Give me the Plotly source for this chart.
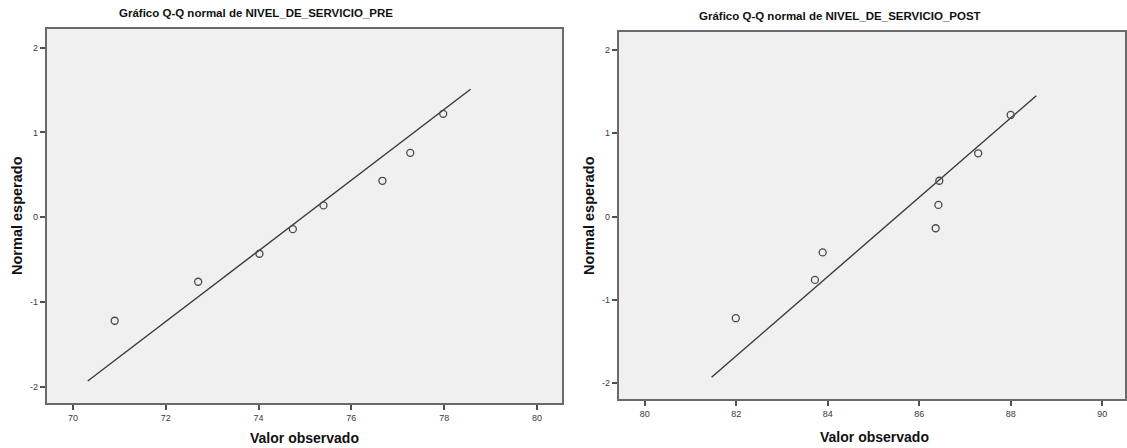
import plotly.graph_objects as go

W, H = 1127, 448

# ---- data ----
pre_observed = [70.9, 72.7, 74.02, 74.74, 75.4, 76.67, 77.27, 77.98]
pre_expected = [-1.22, -0.76, -0.43, -0.14, 0.14, 0.43, 0.76, 1.22]
pre_line_x = [70.32, 78.57]
pre_line_y = [-1.93, 1.51]

post_observed = [81.99, 83.72, 83.89, 86.36, 86.42, 86.44, 87.29, 88.0]
post_expected = [-1.22, -0.76, -0.43, -0.14, 0.14, 0.43, 0.76, 1.22]
post_line_x = [81.46, 88.56]
post_line_y = [-1.93, 1.45]

x_ticks_pre = [70, 72, 74, 76, 78, 80]
x_ticks_post = [80, 82, 84, 86, 88, 90]
y_ticks = [-2, -1, 0, 1, 2]
y_tick_labels = ["-2", "-1", "0", "1", "2"]

title_pre = "Gráfico Q-Q normal de NIVEL_DE_SERVICIO_PRE"
title_post = "Gráfico Q-Q normal de NIVEL_DE_SERVICIO_POST"
x_title = "Valor observado"
y_title = "Normal esperado"

FONT = "Liberation Sans, Arial, sans-serif"


def px(x):
    return x / W


def py(y):
    return 1 - y / H


fig = go.Figure()

marker = dict(symbol="circle-open", size=7, color="#4a4a4a", line=dict(width=1.3, color="#4a4a4a"))
line_style = dict(color="#3a3a3a", width=1.4)

fig.add_trace(go.Scatter(x=pre_line_x, y=pre_line_y, mode="lines", line=line_style,
                         xaxis="x", yaxis="y", showlegend=False, hoverinfo="skip"))
fig.add_trace(go.Scatter(x=pre_observed, y=pre_expected, mode="markers", marker=marker,
                         xaxis="x", yaxis="y", showlegend=False))
fig.add_trace(go.Scatter(x=post_line_x, y=post_line_y, mode="lines", line=line_style,
                         xaxis="x2", yaxis="y2", showlegend=False, hoverinfo="skip"))
fig.add_trace(go.Scatter(x=post_observed, y=post_expected, mode="markers", marker=marker,
                         xaxis="x2", yaxis="y2", showlegend=False))

axis_common = dict(
    showgrid=False, zeroline=False, showline=True, mirror=True,
    linecolor="#6a6a6a", linewidth=2,
    ticks="outside", ticklen=5, tickwidth=1.5, tickcolor="#505050",
    tickfont=dict(family=FONT, size=9, color="#3a3a3a"),
)

fig.update_layout(
    width=W, height=H,
    margin=dict(l=0, r=0, t=0, b=0),
    paper_bgcolor="white",
    plot_bgcolor="#f0f0f0",
    xaxis=dict(domain=[px(47), px(563)], range=[69.44, 80.54], tickvals=x_ticks_pre,
               anchor="y", **axis_common),
    yaxis=dict(domain=[py(403), py(29)], range=[-2.19, 2.22], tickvals=y_ticks,
               ticktext=y_tick_labels, anchor="x", **axis_common),
    xaxis2=dict(domain=[px(620), 1.0], range=[79.434, 90.5], tickvals=x_ticks_post,
                anchor="y2", **axis_common),
    yaxis2=dict(domain=[py(399), py(32)], range=[-2.19, 2.216], tickvals=y_ticks,
                ticktext=y_tick_labels, anchor="x2", **axis_common),
)

ann_font_title = dict(family=FONT, size=11.5, color="#111111")
ann_font_x = dict(family=FONT, size=14, color="#111111")
ann_font_y = dict(family=FONT, size=14.5, color="#111111")

annotations = [
    dict(text="<b>%s</b>" % title_pre, x=px(256), y=py(13), font=ann_font_title),
    dict(text="<b>%s</b>" % title_post, x=px(841), y=py(16), font=ann_font_title),
    dict(text="<b>%s</b>" % x_title, x=px(305), y=py(438), font=ann_font_x),
    dict(text="<b>%s</b>" % x_title, x=px(876), y=py(437), font=ann_font_x),
    dict(text="<b>%s</b>" % y_title, x=px(17), y=py(215), font=ann_font_y, textangle=-90),
    dict(text="<b>%s</b>" % y_title, x=px(590), y=py(215), font=ann_font_y, textangle=-90),
]
for a in annotations:
    a.update(xref="paper", yref="paper", showarrow=False, xanchor="center", yanchor="middle")
fig.update_layout(annotations=annotations)

fig.write_html("out.html")
